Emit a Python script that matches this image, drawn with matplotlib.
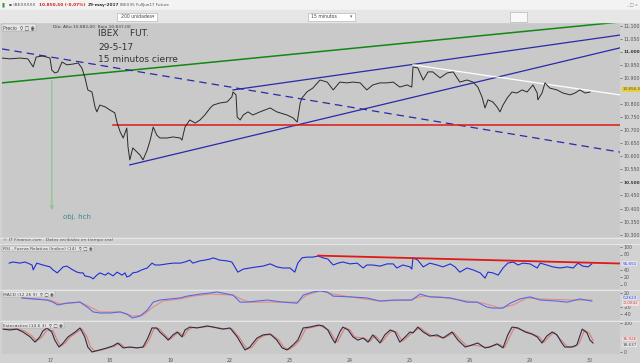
import matplotlib.pyplot as plt
from matplotlib.patches import Rectangle

# ---- datos (x en dias de sesion: 0 = dia 17) ----
day_labels = ['17', '18', '19', '22', '23', '24', '25', '26', '29', '30']

price_x = [-0.80, -0.67, -0.50, -0.37, -0.28, -0.23, -0.12, 0.00, 0.03, 0.08, 0.13, 0.20, 0.28, 0.38,
           0.47, 0.53, 0.58, 0.63, 0.70, 0.75, 0.78, 0.83, 0.92, 1.00, 1.08, 1.12, 1.17, 1.22, 1.28,
           1.30, 1.33, 1.38, 1.45, 1.50, 1.55, 1.62, 1.67, 1.72, 1.78, 1.83, 1.95, 2.05, 2.17, 2.20,
           2.25, 2.33, 2.42, 2.50, 2.58, 2.67, 2.72, 2.83, 2.95, 3.03, 3.05, 3.10, 3.12, 3.17, 3.22,
           3.30, 3.38, 3.50, 3.67, 3.78, 3.95, 4.05, 4.12, 4.17, 4.20, 4.28, 4.38, 4.50, 4.62, 4.72,
           4.83, 4.95, 5.05, 5.17, 5.28, 5.38, 5.50, 5.62, 5.72, 5.83, 5.95, 6.03, 6.05, 6.13, 6.22,
           6.30, 6.38, 6.50, 6.62, 6.72, 6.83, 6.95, 7.05, 7.13, 7.20, 7.25, 7.30, 7.38, 7.45, 7.50,
           7.55, 7.62, 7.70, 7.78, 7.87, 7.95, 8.05, 8.12, 8.13, 8.20, 8.25, 8.33, 8.45, 8.55, 8.67,
           8.75, 8.83, 8.92, 9.00]
price_y = [10976, 10973, 10976, 10973, 10942, 10980, 10984, 10976, 10930, 10919, 10923, 10961, 10950, 10953,
           10957, 10938, 10904, 10854, 10846, 10789, 10770, 10796, 10789, 10777, 10766, 10727, 10693, 10670, 10708,
           10636, 10586, 10632, 10616, 10605, 10586, 10624, 10662, 10712, 10681, 10670, 10670, 10674, 10670, 10662,
           10712, 10739, 10727, 10739, 10758, 10785, 10796, 10804, 10808, 10827, 10846, 10835, 10750, 10739, 10758,
           10770, 10758, 10770, 10785, 10770, 10758, 10747, 10731, 10804, 10823, 10846, 10861, 10892, 10884, 10854,
           10884, 10881, 10884, 10881, 10854, 10873, 10881, 10881, 10884, 10865, 10873, 10865, 10942, 10938, 10892,
           10923, 10923, 10900, 10919, 10923, 10884, 10892, 10884, 10865, 10827, 10785, 10816, 10808, 10789, 10770,
           10796, 10823, 10846, 10842, 10854, 10846, 10873, 10842, 10816, 10842, 10881, 10861, 10854, 10842, 10835,
           10842, 10854, 10842, 10846]

# lineas de tendencia (extremos)
green_x, green_y = [-0.80, 9.50], [10881, 11114]
dash_x, dash_y = [-0.80, 9.50], [11011, 10616]
low_ch_x, low_ch_y = [1.33, 9.50], [10567, 11015]
up_ch_x, up_ch_y = [3.05, 9.50], [10854, 11064]
white_x, white_y = [6.05, 9.50], [10950, 10835]
red_x, red_y = [1.05, 9.50], [10720, 10720]
target_x, target_top, target_low = 0.03, 10900, 10383

price_ticks = [11100, 11050, 11000, 10950, 10900, 10800, 10750, 10700, 10650, 10600,
               10550, 10500, 10450, 10400, 10350, 10300]

rsi_x = [-0.68, -0.62, -0.50, -0.42, -0.37, -0.30, -0.28, -0.22, -0.12, 0.00, 0.05, 0.12, 0.17, 0.22,
         0.28, 0.33, 0.38, 0.45, 0.50, 0.55, 0.58, 0.67, 0.72, 0.78, 0.83, 0.92, 0.97, 1.05, 1.12,
         1.20, 1.25, 1.28, 1.33, 1.38, 1.45, 1.53, 1.62, 1.70, 1.75, 1.83, 1.95, 2.05, 2.17, 2.25,
         2.33, 2.38, 2.50, 2.58, 2.67, 2.72, 2.83, 2.95, 3.03, 3.08, 3.13, 3.22, 3.33, 3.45, 3.55,
         3.67, 3.78, 3.88, 4.00, 4.08, 4.13, 4.20, 4.28, 4.38, 4.47, 4.55, 4.63, 4.72, 4.80, 4.88,
         5.00, 5.12, 5.22, 5.28, 5.38, 5.50, 5.62, 5.72, 5.78, 5.88, 6.00, 6.03, 6.05, 6.13, 6.22,
         6.33, 6.45, 6.55, 6.67, 6.75, 6.83, 6.95, 7.05, 7.17, 7.25, 7.30, 7.38, 7.47, 7.55, 7.63,
         7.72, 7.80, 7.88, 8.00, 8.12, 8.17, 8.28, 8.38, 8.50, 8.62, 8.72, 8.80, 8.88, 8.97, 9.03]
rsi_y = [57, 60, 57, 60, 57, 52, 39, 57, 52, 47, 39, 31, 39, 47,
         49, 44, 39, 33, 31, 31, 23, 20, 15, 25, 31, 25, 31, 23, 33,
         25, 31, 20, 23, 31, 33, 39, 44, 57, 52, 52, 55, 57, 57, 60,
         65, 57, 63, 65, 68, 71, 65, 63, 60, 47, 33, 41, 44, 47, 49,
         55, 47, 44, 44, 33, 57, 71, 73, 73, 76, 71, 68, 52, 57, 60,
         55, 57, 44, 52, 52, 49, 55, 55, 44, 52, 47, 41, 71, 65, 47,
         57, 52, 47, 55, 47, 33, 44, 39, 31, 17, 33, 31, 25, 44, 57,
         60, 52, 57, 55, 44, 57, 52, 47, 44, 47, 44, 57, 49, 47, 55]
rsi_trend_x, rsi_trend_y = [4.47, 9.50], [77, 56]

macd_x = [-0.47, -0.28, -0.05, 0.05, 0.13, 0.28, 0.50, 0.62, 0.72, 0.83, 1.00, 1.17, 1.28, 1.37,
          1.50, 1.62, 1.72, 1.83, 2.00, 2.17, 2.28, 2.50, 2.67, 2.78, 3.05, 3.17, 3.28, 3.62, 3.88,
          4.12, 4.22, 4.38, 4.50, 4.62, 4.72, 5.00, 5.28, 5.50, 5.72, 6.00, 6.03, 6.17, 6.33, 6.67,
          6.95, 7.12, 7.28, 7.38, 7.55, 7.67, 7.83, 8.00, 8.17, 8.45, 8.62, 8.83, 9.03]
macd_y = [6, 3, 0, -6, -14, -9, -6, -20, -34, -37, -37, -34, -40, -51,
          -46, -29, -6, 0, 3, 6, 11, 17, 20, 23, 14, -6, -6, 0, -6,
          -9, 14, 23, 26, 23, 11, 9, 6, -3, 0, 0, 0, 17, 9, 6,
          -6, -6, -20, -23, -23, -9, 3, 9, 0, -3, -6, 3, -3]
signal_x = [-0.47, 0.00, 0.17, 0.50, 0.67, 0.83, 1.17, 1.38, 1.55, 1.72, 1.88, 2.17, 2.38, 2.67,
            3.05, 3.22, 3.33, 4.12, 4.28, 4.50, 4.72, 5.00, 5.50, 6.00, 6.20, 6.50, 6.95, 7.22,
            7.50, 7.72, 7.95, 8.17, 8.72, 9.03]
signal_y = [6, 0, -11, -6, -20, -34, -34, -46, -43, -20, -3, 3, 11, 17,
            14, 0, -6, -6, 14, 26, 17, 9, -3, 0, 11, 9, -3, -9,
            -23, -14, 6, 3, 0, 0]

sto_x = [-0.78, -0.67, -0.55, -0.45, -0.33, -0.25, -0.17, -0.12, -0.05, 0.03, 0.08, 0.15, 0.22, 0.30,
         0.42, 0.50, 0.58, 0.63, 0.70, 0.83, 0.95, 1.05, 1.13, 1.22, 1.33, 1.45, 1.55, 1.63, 1.70,
         1.78, 1.83, 1.92, 1.97, 2.05, 2.12, 2.20, 2.25, 2.33, 2.45, 2.53, 2.62, 2.72, 2.88, 3.00,
         3.12, 3.20, 3.25, 3.33, 3.45, 3.55, 3.67, 3.78, 3.87, 3.95, 4.05, 4.13, 4.22, 4.33, 4.47,
         4.55, 4.63, 4.70, 4.75, 4.83, 4.88, 4.97, 5.05, 5.13, 5.22, 5.30, 5.38, 5.50, 5.58, 5.67,
         5.75, 5.83, 5.92, 6.00, 6.05, 6.13, 6.22, 6.33, 6.45, 6.55, 6.70, 6.80, 6.92, 7.03, 7.13,
         7.25, 7.33, 7.45, 7.55, 7.63, 7.70, 7.80, 7.92, 8.03, 8.12, 8.20, 8.28, 8.37, 8.45, 8.53,
         8.58, 8.70, 8.78, 8.87, 8.95, 9.00, 9.05]
sto_y = [79, 76, 79, 69, 52, 34, 52, 72, 83, 69, 41, 17, 31, 52,
         69, 83, 52, 17, 0, 7, 14, 21, 31, 14, 17, 14, 17, 48, 83,
         83, 69, 52, 41, 59, 69, 52, 76, 86, 83, 86, 90, 86, 79, 83,
         52, 24, 7, 17, 48, 59, 62, 41, 14, 7, 24, 41, 83, 86, 93,
         90, 76, 48, 31, 69, 86, 76, 52, 41, 48, 34, 59, 31, 59, 76,
         69, 34, 52, 69, 66, 86, 69, 55, 59, 48, 69, 41, 17, 24, 31,
         14, 17, 28, 14, 59, 86, 83, 69, 62, 52, 31, 55, 69, 59, 31,
         17, 17, 24, 79, 66, 41, 31]
sto_sig_x = [-0.78, -0.55, -0.42, -0.30, -0.22, -0.14, -0.05, 0.05, 0.11, 0.18, 0.25, 0.33, 0.45, 0.53,
             0.61, 0.67, 0.74, 0.86, 1.08, 1.16, 1.25, 1.36, 1.48, 1.58, 1.66, 1.73, 1.82, 1.95, 2.00,
             2.08, 2.15, 2.23, 2.29, 2.37, 2.56, 2.65, 2.91, 3.03, 3.15, 3.23, 3.29, 3.37, 3.48, 3.58,
             3.70, 3.81, 3.90, 3.98, 4.08, 4.17, 4.26, 4.50, 4.66, 4.73, 4.79, 4.87, 4.92, 5.00, 5.08,
             5.25, 5.33, 5.42, 5.53, 5.62, 5.70, 5.78, 5.87, 5.95, 6.04, 6.17, 6.25, 6.37, 6.58, 6.73,
             6.84, 6.95, 7.06, 7.28, 7.48, 7.58, 7.67, 7.74, 7.95, 8.15, 8.23, 8.32, 8.40, 8.56, 8.62,
             8.74, 8.82, 8.91, 8.99, 9.05]
sto_sig_y = [79, 80, 72, 55, 38, 50, 76, 74, 45, 20, 30, 50, 68, 80,
             55, 20, 3, 7, 20, 30, 16, 16, 15, 18, 45, 80, 80, 52, 43,
             58, 68, 54, 74, 84, 86, 88, 80, 80, 52, 26, 9, 17, 46, 58,
             60, 42, 16, 8, 22, 42, 80, 91, 74, 50, 34, 66, 84, 76, 52,
             47, 36, 57, 34, 57, 74, 68, 37, 50, 67, 84, 70, 56, 49, 67,
             43, 20, 24, 16, 27, 16, 56, 84, 70, 53, 33, 53, 68, 32, 19,
             18, 30, 76, 64, 40]

W, H = 640, 363
BG = '#c9c9c9'
XLIM = (-0.8, 9.5)
LBL = 3.4

fig = plt.figure(figsize=(6.4, 3.63), dpi=100, facecolor='#d2d2d2')


def px_axes(x0, y0, x1, y1):
    return fig.add_axes([x0 / W, 1 - y1 / H, (x1 - x0) / W, (y1 - y0) / H])


def style(ax, ylim, yticks, ylabels):
    ax.set_facecolor(BG)
    for s in ax.spines.values():
        s.set_visible(False)
    ax.set_xlim(*XLIM)
    ax.set_ylim(*ylim)
    ax.set_xticks([])
    ax.yaxis.tick_right()
    ax.set_yticks(yticks)
    ax.set_yticklabels(ylabels)
    ax.tick_params(axis='y', labelsize=LBL, length=1.5, pad=1, colors='#555555', width=0.5)


def fmt(v):
    return '{:,}'.format(v).replace(',', '.')


def side_box(ax, y, txt, fc, tc):
    ax.text(1.004, y, txt, transform=ax.get_yaxis_transform(), fontsize=3.0, color=tc,
            va='center', bbox=dict(boxstyle='square,pad=0.1', facecolor=fc, edgecolor='none'))


# ---- ventana / barra de herramientas ----
fig.patches.append(Rectangle((0, 1 - 10 / H), 1, 10 / H, transform=fig.transFigure,
                             color='#f3f3f3', zorder=0))
fig.patches.append(Rectangle((0, 1 - 22 / H), 1, 12 / H, transform=fig.transFigure,
                             color='#e6e6e6', zorder=0))
fig.patches.append(Rectangle((117 / W, 1 - 21 / H), 40 / W, 8 / H, transform=fig.transFigure,
                             facecolor='white', edgecolor='#aaaaaa', lw=0.4, zorder=1))
fig.patches.append(Rectangle((308 / W, 1 - 21 / H), 47 / W, 8 / H, transform=fig.transFigure,
                             facecolor='white', edgecolor='#aaaaaa', lw=0.4, zorder=1))
fig.patches.append(Rectangle((510 / W, 1 - 22 / H), 17 / W, 10 / H, transform=fig.transFigure,
                             facecolor='#f8f8f8', edgecolor='#aaaaaa', lw=0.4, zorder=1))
fig.text(2 / W, 1 - 5 / H, '▮', fontsize=4, color='#3a9a3a', va='center')
fig.text(9 / W, 1 - 5 / H, '▪ IBEXXXXX', fontsize=3.2, color='#555555', va='center')
fig.text(39 / W, 1 - 5 / H, '10.850,50 (-0,07%)', fontsize=3.1, color='#d02020',
         weight='bold', va='center')
fig.text(88 / W, 1 - 5 / H, '29-may-2017', fontsize=3.1, color='#333333', weight='bold', va='center')
fig.text(120 / W, 1 - 5 / H, 'IBEX35 FullJun17 Future', fontsize=3.0, color='#555555', va='center')
fig.text(632 / W, 1 - 5 / H, '_ □ x', fontsize=3.2, color='#888888', va='center', ha='center')
fig.text(121 / W, 1 - 17 / H, '200 unidades', fontsize=3.3, color='#444444', va='center')
fig.text(152 / W, 1 - 17 / H, '▾', fontsize=3.3, color='#666666', va='center')
fig.text(311 / W, 1 - 17 / H, '15 minutos', fontsize=3.3, color='#444444', va='center')
fig.text(350 / W, 1 - 17 / H, '▾', fontsize=3.3, color='#666666', va='center')

# ---- precio ----
ax = px_axes(2, 22, 620, 237)
style(ax, (10291, 11114), price_ticks, [fmt(v) for v in price_ticks])
for lab in ax.get_yticklabels():
    if lab.get_text() in ('11.000', '10.500'):
        lab.set_fontweight('bold')
        lab.set_fontsize(3.1)
        lab.set_color('#333333')

ax.plot(green_x, green_y, color='#118811', lw=1.1)
ax.plot(dash_x, dash_y, color='#2a2aa8', lw=0.9, ls=(0, (6, 4)))
ax.plot(low_ch_x, low_ch_y, color='#2a2aa8', lw=0.9)
ax.plot(up_ch_x, up_ch_y, color='#2a2aa8', lw=0.9)
ax.plot(white_x, white_y, color='white', lw=0.9)
ax.plot(red_x, red_y, color='#e01818', lw=1.1)
ax.plot(price_x, price_y, color='#2a2a2a', lw=0.7)
ax.annotate('', xy=(target_x, target_low), xytext=(target_x, target_top),
            arrowprops=dict(arrowstyle='-|>', color='#8fc48f', lw=0.9, mutation_scale=5))
ax.text(target_x + 0.19, target_low - 16, 'obj. hch', fontsize=5, color='#3a8a8a', va='center')
side_box(ax, price_y[-1] + 10, '10.856,5', '#e8cf3a', '#555555')
ax.text(0.002, 0.975, 'Precio  ⚲ □ ◉', transform=ax.transAxes, fontsize=3.3, color='#444444',
        va='center', bbox=dict(boxstyle='square,pad=0.2', facecolor='#e4e4e4', edgecolor='#999999', lw=0.3))
ax.text(0.083, 0.975, 'Día: Alto 10.882,00  Bajo 10.837,00', transform=ax.transAxes,
        fontsize=3.2, color='#444444', va='center')
fig.text(98 / W, 1 - 34 / H, 'IBEX    FUT.', fontsize=6.5, color='#333333', va='center')
fig.text(98 / W, 1 - 47 / H, '29-5-17', fontsize=6.5, color='#333333', va='center')
fig.text(98 / W, 1 - 60 / H, '15 minutos cierre', fontsize=6.5, color='#333333', va='center')

fig.text(3 / W, 1 - 240.5 / H, '© IT Finance.com . Datos recibidos en tiempo real', fontsize=3.2,
         color='#555555', style='italic', va='center')

# ---- RSI ----
ax2 = px_axes(2, 244, 620, 289)
style(ax2, (-12, 108), [100, 80, 40, 20, 0], ['100', '80', '40', '20', '0'])
ax2.plot(rsi_x, rsi_y, color='#1f2fd8', lw=0.8)
ax2.plot(rsi_trend_x, rsi_trend_y, color='#e01818', lw=1.3)
side_box(ax2, 55.6, '55,651', '#dfe3f5', '#3040c0')
ax2.text(0.002, 0.9, 'RSI - Fuerza Relativa (índice) (14)  ⚲ □ ◉', transform=ax2.transAxes,
         fontsize=3.2, color='#444444', va='center',
         bbox=dict(boxstyle='square,pad=0.2', facecolor='#e4e4e4', edgecolor='#999999', lw=0.3))

# ---- MACD ----
ax3 = px_axes(2, 290, 620, 320)
style(ax3, (-57, 28.6), [20, -20, -40], ['20', '-20', '-40'])
ax3.plot(signal_x, signal_y, color='#e58c7c', lw=0.8)
ax3.plot(macd_x, macd_y, color='#5a68e6', lw=0.8)
side_box(ax3, 6, '0,2623', '#dfe3f5', '#3040c0')
side_box(ax3, -9, '-0,0842', '#f5dede', '#c05050')
ax3.text(0.002, 0.87, 'MACD (12 26 9)  ⚲ □ ◉', transform=ax3.transAxes, fontsize=3.2, color='#444444',
         va='center', bbox=dict(boxstyle='square,pad=0.2', facecolor='#e4e4e4', edgecolor='#999999', lw=0.3))

# ---- Estocastico ----
ax4 = px_axes(2, 321, 620, 354)
style(ax4, (-7, 107), [100, 0], ['100', '0'])
ax4.plot(sto_sig_x, sto_sig_y, color='#e07c6c', lw=0.8)
ax4.plot(sto_x, sto_y, color='#2c2c48', lw=0.8)
side_box(ax4, 45, '36,926', '#f5dede', '#c05050')
side_box(ax4, 24, '38,637', '#e6e6e6', '#444444')
ax4.text(0.002, 0.88, 'Estocástico (14 6 3)  ⚲ □ ◉', transform=ax4.transAxes, fontsize=3.2,
         color='#444444', va='center',
         bbox=dict(boxstyle='square,pad=0.2', facecolor='#e4e4e4', edgecolor='#999999', lw=0.3))
ax4.set_xticks(range(len(day_labels)))
ax4.set_xticklabels(day_labels)
ax4.tick_params(axis='x', labelsize=LBL, length=0, pad=3, colors='#555555')

# separadores de paneles
for yy in (237.5, 243.5, 289.5, 320.5):
    fig.lines.append(plt.Line2D([0, 1], [1 - yy / H, 1 - yy / H], transform=fig.transFigure,
                                color='#ececec', lw=0.6))

fig.savefig('out.png', dpi=100, facecolor=fig.get_facecolor())
